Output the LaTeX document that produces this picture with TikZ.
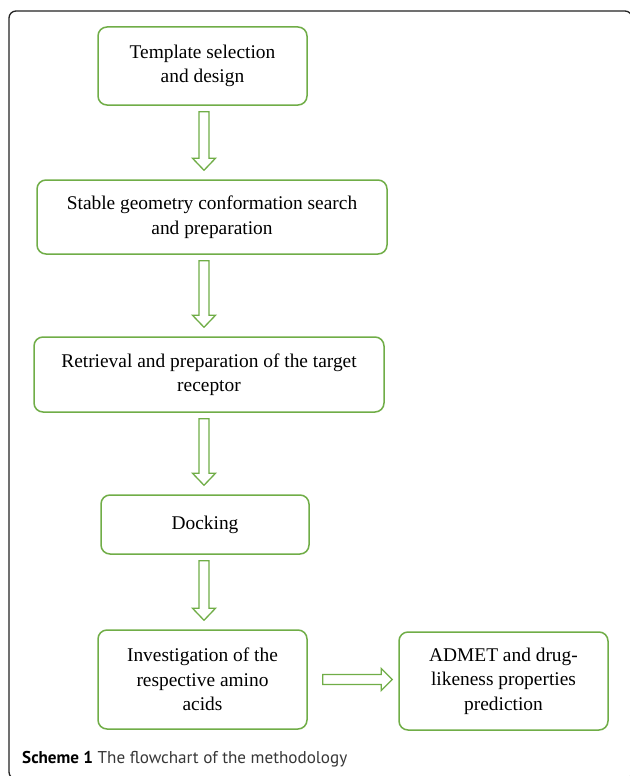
\documentclass[tikz,border=0pt]{standalone}
\usepackage{fontspec}
\setmainfont{Liberation Serif}
\newfontfamily\captionfont{PT Sans}
\usepackage{xcolor}
\usetikzlibrary{calc}
\definecolor{flowgreen}{RGB}{112, 173, 71}
\definecolor{framegray}{RGB}{35, 35, 35}
\definecolor{captiongray}{RGB}{55, 55, 55}

\tikzset{
  stepbox/.style={draw=flowgreen, line width=1.5pt, rounded corners=9pt, fill=white,
    align=center, inner sep=0pt, font=\fontsize{19.4}{24.5}\selectfont},
  flowarrow/.style={draw=flowgreen, line width=1.3pt, fill=white, line join=miter},
}

% hollow block arrow, box above to box below
\newcommand{\downflow}[2]{%
  \draw[flowarrow] let \p1=(#1.south -| spine), \p2=(#2.north -| spine) in
    (\x1-5pt,\y1-6pt) -- (\x1+5pt,\y1-6pt) -- (\x1+5pt,\y2+21pt)
    -- (\x1+11.5pt,\y2+21pt) -- (\x1,\y2+9pt) -- (\x1-11.5pt,\y2+21pt)
    -- (\x1-5pt,\y2+21pt) -- cycle;}
% same, left box to right box
\newcommand{\rightflow}[2]{%
  \draw[flowarrow] let \p1=(#1.east), \p2=(#2.west) in
    (\x1+15pt,\y1+5pt) -- (\x1+15pt,\y1-5pt) -- (\x2-17pt,\y1-5pt)
    -- (\x2-17pt,\y1-11pt) -- (\x2-6pt,\y1) -- (\x2-17pt,\y1+11pt)
    -- (\x2-17pt,\y1+5pt) -- cycle;}

\begin{document}
\begin{tikzpicture}[x=1pt, y=-1pt]
\useasboundingbox (0,0) rectangle (629,776);
\draw[framegray, line width=1.3pt, rounded corners=7pt] (9,11) rectangle (632,779);

\coordinate (spine) at (204,0);

\node[stepbox, minimum width=209pt, minimum height=78pt] (template) at (202.5,66)
  {Template selection\\and design};
\node[stepbox, minimum width=350pt, minimum height=74pt] (geometry) at (212,217)
  {Stable geometry conformation search\\and preparation};
\node[stepbox, minimum width=350pt, minimum height=75pt] (receptor) at (209,374.5)
  {Retrieval and preparation of the target\\receptor};
\node[stepbox, minimum width=208pt, minimum height=59pt] (docking) at (205,524.5)
  {Docking};
\node[stepbox, minimum width=209pt, minimum height=99pt] (amino) at (202.5,679.5)
  {Investigation of the\\respective amino\\acids};
\node[stepbox, minimum width=209pt, minimum height=98pt] (admet) at (503.5,681)
  {ADMET and drug-\\likeness properties\\prediction};

\downflow{template}{geometry}
\downflow{geometry}{receptor}
\downflow{receptor}{docking}
\downflow{docking}{amino}
\rightflow{amino}{admet}

\node[anchor=base west, inner sep=0pt, font=\captionfont\fontsize{17.1}{20}\selectfont, text=captiongray] (caption) at (22,763)
  {\textcolor{black}{\textbf{Scheme 1}} The flowchart of the methodology};
\end{tikzpicture}
\end{document}
